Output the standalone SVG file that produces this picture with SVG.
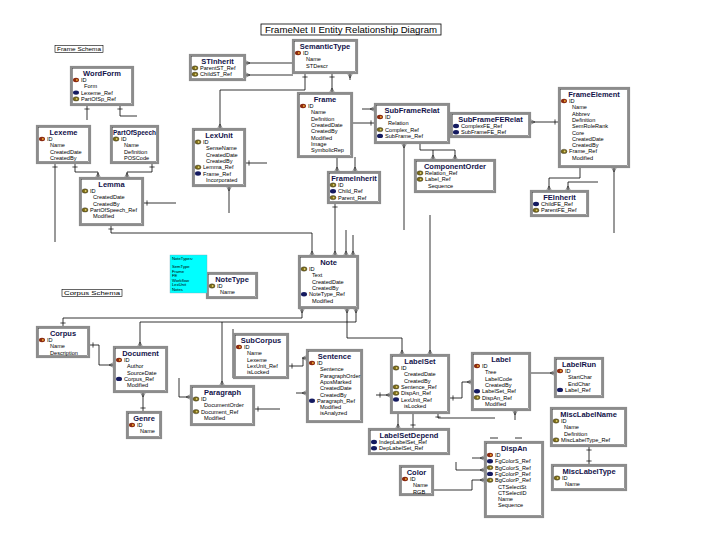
<svg xmlns="http://www.w3.org/2000/svg" xmlns:xlink="http://www.w3.org/1999/xlink" width="720" height="540" viewBox="0 0 720 540">
<style>
.b{fill:#fff;stroke:#8c8c8c;stroke-width:2.2}
.i{fill:none;stroke:#3a3a3a;stroke-width:0.5}
.h{font-family:"Liberation Sans",Arial,sans-serif;font-weight:bold;font-size:7.5px;fill:#12124a;text-anchor:middle}
.r{font-family:"Liberation Sans",Arial,sans-serif;font-size:5.6px;fill:#000}
.lbl{font-family:"Liberation Sans",Arial,sans-serif;font-size:5px;fill:#000}
.c polyline{fill:none;stroke:#000;stroke-width:0.8}
.cy{font-family:"Liberation Sans",Arial,sans-serif;font-size:4.2px;fill:#000}
</style>
<defs>
<g id="pk"><ellipse rx="3" ry="2.2" fill="#8b2a10"/><circle cx="0.8" r="1" fill="#e8a030"/></g>
<g id="pf"><ellipse rx="3" ry="2.2" fill="#7a6a18" stroke="#333" stroke-width="0.4"/><circle cx="0.6" r="0.9" fill="#e0d070"/></g>
<g id="fk"><ellipse rx="3" ry="2.2" fill="#141a60"/></g>
<marker id="many" markerUnits="userSpaceOnUse" markerWidth="10" markerHeight="10" refX="0" refY="0" orient="auto-start-reverse" overflow="visible"><path d="M-5,0 L0,-2.6 M-5,0 L0,2.6 M-5,0 L0,0" fill="none" stroke="#333" stroke-width="0.6"/></marker>
<marker id="one" markerUnits="userSpaceOnUse" markerWidth="10" markerHeight="10" refX="0" refY="0" orient="auto-start-reverse" overflow="visible"><path d="M-4,-2.6 L-4,2.6" fill="none" stroke="#000" stroke-width="0.7"/></marker>
</defs>
<rect width="720" height="540" fill="#fff"/>

<g id="title">
<rect x="261" y="24" width="180" height="11" fill="#fff" stroke="#000" stroke-width="0.8"/>
<text x="351" y="32.5" font-family="Liberation Sans, Arial, sans-serif" font-size="8.5" text-anchor="middle" textLength="172" lengthAdjust="spacingAndGlyphs">FrameNet II Entity Relationship Diagram</text>
</g>
<g id="label-frame-schema">
<rect x="55" y="45.5" width="48" height="7" fill="#fff" stroke="#000" stroke-width="0.6"/>
<text class="lbl" x="57" y="51" textLength="44" lengthAdjust="spacingAndGlyphs">Frame Schema</text>
</g>
<g id="label-corpus-schema">
<rect x="62" y="289.5" width="60" height="7" fill="#fff" stroke="#000" stroke-width="0.6"/>
<text class="lbl" x="64" y="295" textLength="56" lengthAdjust="spacingAndGlyphs">Corpus Schema</text>
</g>

<g id="connectors" class="c">
<polyline points="87,105 87,120" marker-start="url(#one)"/>
<polyline points="120,105 120,116 137,116" marker-start="url(#one)"/>
<polyline points="55,163 55,242" marker-start="url(#one)"/>
<polyline points="75,163 75,172 98,172 98,178" marker-start="url(#one)" marker-end="url(#many)"/>
<polyline points="152,163 152,172 127,172 127,178" marker-start="url(#one)" marker-end="url(#many)"/>
<polyline points="143,203 176,203" marker-start="url(#one)"/>
<polyline points="111,225 111,233 312,233 312,256" marker-start="url(#one)" marker-end="url(#many)"/>
<polyline points="229,186 229,213" marker-start="url(#many)"/>
<polyline points="305,73 305,90 220,90 220,129" marker-start="url(#one)" marker-end="url(#many)"/>
<polyline points="332,73 332,93" marker-start="url(#one)" marker-end="url(#many)"/>
<polyline points="350,73 350,80" marker-start="url(#many)"/>
<polyline points="293,63 245,63" marker-end="url(#many)"/>
<polyline points="293,75 245,75" marker-end="url(#many)"/>
<polyline points="337,157 337,172" marker-end="url(#many)"/>
<polyline points="355,157 355,172" marker-end="url(#many)"/>
<polyline points="245,163 267,163" marker-start="url(#one)"/>
<polyline points="335,203 335,256" marker-start="url(#one)" marker-end="url(#many)"/>
<polyline points="346,230 346,256" marker-end="url(#many)"/>
<polyline points="353,235 353,256" marker-end="url(#many)"/>
<polyline points="352,123 375,123" marker-end="url(#one)"/>
<polyline points="362,109 375,109" marker-end="url(#many)"/>
<polyline points="404,143 404,230" marker-start="url(#many)"/>
<polyline points="420,143 420,150 455,150 455,160" marker-end="url(#many)"/>
<polyline points="433,150 433,160" marker-end="url(#many)"/>
<polyline points="530,122 559,122" marker-start="url(#many)" marker-end="url(#one)"/>
<polyline points="580,167 580,178 549,178 549,191" marker-end="url(#many)"/>
<polyline points="598,182 568,182 568,191" marker-end="url(#many)"/>
<polyline points="614,167 614,233" marker-start="url(#many)"/>
<polyline points="63,327 63,318 302,318 302,308" marker-start="url(#one)" marker-end="url(#many)"/>
<polyline points="140,347 140,322 356,322 356,308" marker-start="url(#many)" marker-end="url(#many)"/>
<polyline points="222,322 222,386" marker-end="url(#many)"/>
<polyline points="233,329 233,378"/>
<polyline points="347,308 347,338 402,338 402,355" marker-start="url(#many)" marker-end="url(#many)"/>
<polyline points="430,215 430,355" marker-end="url(#many)"/>
<polyline points="288,366 303,366 303,358 307,358" marker-start="url(#one)" marker-end="url(#many)"/>
<polyline points="89,345 99,345 99,365 114,365" marker-start="url(#one)" marker-end="url(#many)"/>
<polyline points="143,392 143,412" marker-start="url(#many)" marker-end="url(#one)"/>
<polyline points="179,378 179,397 191,397" marker-end="url(#many)"/>
<polyline points="254,409 280,409" marker-start="url(#one)"/>
<polyline points="296,393 307,393" marker-end="url(#many)"/>
<polyline points="376,395 391,395" marker-start="url(#one)" marker-end="url(#many)"/>
<polyline points="449,398 462,398 462,382 472,382" marker-start="url(#one)" marker-end="url(#many)"/>
<polyline points="398,413 398,429" marker-end="url(#many)"/>
<polyline points="413,413 413,429" marker-end="url(#one)"/>
<polyline points="438,413 438,418 495,418" marker-start="url(#one)"/>
<polyline points="515,410 515,420" marker-start="url(#many)"/>
<polyline points="433,490 472,490 472,480 485,480" marker-end="url(#many)"/>
<polyline points="456,462 456,470 485,470" marker-end="url(#many)"/>
<polyline points="472,458 485,458" marker-end="url(#many)"/>
<polyline points="490,438 498,438"/>
<polyline points="515,438 522,438"/>
<polyline points="530,373 555,373" marker-end="url(#many)"/>
<polyline points="589,446 589,465" marker-start="url(#one)" marker-end="url(#one)"/>
</g>

<g id="n-wordform" transform="translate(71,67)">
<rect class="b" width="62" height="38"/><rect class="i" x="1.6" y="1.6" width="58.8" height="34.8"/>
<text class="h" x="31" y="8.5">WordForm</text>
<use href="#pk" x="5" y="13"/><text class="r" x="10" y="15">ID</text>
<text class="r" x="13" y="21.3">Form</text>
<use href="#fk" x="5" y="25.6"/><text class="r" x="10" y="27.6">Lexeme_Ref</text>
<use href="#pf" x="5" y="31.9"/><text class="r" x="10" y="33.9">PartOfSp_Ref</text>
</g>

<g id="n-lexeme" transform="translate(37,126)">
<rect class="b" width="53" height="37"/><rect class="i" x="1.6" y="1.6" width="49.8" height="33.8"/>
<text class="h" x="26.5" y="8.5">Lexeme</text>
<use href="#pk" x="5" y="13"/><text class="r" x="10" y="15">ID</text>
<text class="r" x="13" y="21.3">Name</text>
<text class="r" x="13" y="27.6">CreatedDate</text>
<text class="r" x="13" y="33.9">CreatedBy</text>
</g>

<g id="n-partofspeech" transform="translate(111,126)">
<rect class="b" width="47" height="37"/><rect class="i" x="1.6" y="1.6" width="43.8" height="33.8"/>
<text class="h" x="23.5" y="8.5" style="font-size:6.5px">PartOfSpeech</text>
<use href="#pf" x="5" y="13"/><text class="r" x="10" y="15">ID</text>
<text class="r" x="13" y="21.3">Name</text>
<text class="r" x="13" y="27.6">Definition</text>
<text class="r" x="13" y="33.9">POSCode</text>
</g>

<g id="n-lemma" transform="translate(80,178)">
<rect class="b" width="63" height="47"/><rect class="i" x="1.6" y="1.6" width="59.8" height="43.8"/>
<text class="h" x="31.5" y="8.5">Lemma</text>
<use href="#pf" x="5" y="13"/><text class="r" x="10" y="15">ID</text>
<text class="r" x="13" y="21.3">CreatedDate</text>
<text class="r" x="13" y="27.6">CreatedBy</text>
<use href="#pf" x="5" y="31.9"/><text class="r" x="10" y="33.9">PartOfSpeech_Ref</text>
<text class="r" x="13" y="40.2">Modified</text>
</g>

<g id="n-semantictype" transform="translate(293,40)">
<rect class="b" width="64" height="33"/><rect class="i" x="1.6" y="1.6" width="60.8" height="29.8"/>
<text class="h" x="32" y="8.5">SemanticType</text>
<use href="#pk" x="5" y="13"/><text class="r" x="10" y="15">ID</text>
<text class="r" x="13" y="21.3">Name</text>
<text class="r" x="13" y="27.6">STDescr</text>
</g>

<g id="n-stinherit" transform="translate(190,55)">
<rect class="b" width="55" height="25"/><rect class="i" x="1.6" y="1.6" width="51.8" height="21.8"/>
<text class="h" x="27.5" y="8.5">STInherit</text>
<use href="#pf" x="5" y="13"/><text class="r" x="10" y="15">ParentST_Ref</text>
<use href="#pf" x="5" y="19.3"/><text class="r" x="10" y="21.3">ChildST_Ref</text>
</g>

<g id="n-frame" transform="translate(298,93)">
<rect class="b" width="54" height="64"/><rect class="i" x="1.6" y="1.6" width="50.8" height="60.8"/>
<text class="h" x="27" y="8.5">Frame</text>
<use href="#pk" x="5" y="13"/><text class="r" x="10" y="15">ID</text>
<text class="r" x="13" y="21.3">Name</text>
<text class="r" x="13" y="27.6">Definition</text>
<text class="r" x="13" y="33.9">CreatedDate</text>
<text class="r" x="13" y="40.2">CreatedBy</text>
<text class="r" x="13" y="46.5">Modified</text>
<text class="r" x="13" y="52.8">Image</text>
<text class="r" x="13" y="59.1">SymbolicRep</text>
</g>

<g id="n-lexunit" transform="translate(193,129)">
<rect class="b" width="52" height="57"/><rect class="i" x="1.6" y="1.6" width="48.8" height="53.8"/>
<text class="h" x="26" y="8.5">LexUnit</text>
<use href="#pf" x="5" y="13"/><text class="r" x="10" y="15">ID</text>
<text class="r" x="13" y="21.3">SenseName</text>
<text class="r" x="13" y="27.6">CreatedDate</text>
<text class="r" x="13" y="33.9">CreatedBy</text>
<use href="#pf" x="5" y="38.2"/><text class="r" x="10" y="40.2">Lemma_Ref</text>
<use href="#fk" x="5" y="44.5"/><text class="r" x="10" y="46.5">Frame_Ref</text>
<text class="r" x="13" y="52.8">Incorporated</text>
</g>

<g id="n-frameinherit" transform="translate(328,172)">
<rect class="b" width="52" height="31"/><rect class="i" x="1.6" y="1.6" width="48.8" height="27.8"/>
<text class="h" x="26" y="8.5">FrameInherit</text>
<use href="#pf" x="5" y="13"/><text class="r" x="10" y="15">ID</text>
<use href="#fk" x="5" y="19.3"/><text class="r" x="10" y="21.3">Child_Ref</text>
<use href="#pf" x="5" y="25.6"/><text class="r" x="10" y="27.6">Parent_Ref</text>
</g>

<g id="n-subframerelat" transform="translate(375,104)">
<rect class="b" width="74" height="39"/><rect class="i" x="1.6" y="1.6" width="70.8" height="35.8"/>
<text class="h" x="37" y="8.5">SubFrameRelat</text>
<use href="#pk" x="5" y="13"/><text class="r" x="10" y="15">ID</text>
<text class="r" x="13" y="21.3">Relation</text>
<use href="#pf" x="5" y="25.6"/><text class="r" x="10" y="27.6">Complex_Ref</text>
<use href="#fk" x="5" y="31.9"/><text class="r" x="10" y="33.9">SubFrame_Ref</text>
</g>

<g id="n-subframeferelat" transform="translate(451,113)">
<rect class="b" width="79" height="24"/><rect class="i" x="1.6" y="1.6" width="75.8" height="20.8"/>
<text class="h" x="39.5" y="8.5">SubFrameFERelat</text>
<use href="#fk" x="5" y="13"/><text class="r" x="10" y="15">ComplexFE_Ref</text>
<use href="#fk" x="5" y="19.3"/><text class="r" x="10" y="21.3">SubFrameFE_Ref</text>
</g>

<g id="n-componentorder" transform="translate(415,160)">
<rect class="b" width="80" height="32"/><rect class="i" x="1.6" y="1.6" width="76.8" height="28.8"/>
<text class="h" x="40" y="8.5">ComponentOrder</text>
<use href="#pf" x="5" y="13"/><text class="r" x="10" y="15">Relation_Ref</text>
<use href="#pf" x="5" y="19.3"/><text class="r" x="10" y="21.3">Label_Ref</text>
<text class="r" x="13" y="27.6">Sequence</text>
</g>

<g id="n-frameelement" transform="translate(559,88)">
<rect class="b" width="70" height="79"/><rect class="i" x="1.6" y="1.6" width="66.8" height="75.8"/>
<text class="h" x="35" y="8.5">FrameElement</text>
<use href="#pk" x="5" y="13"/><text class="r" x="10" y="15">ID</text>
<text class="r" x="13" y="21.3">Name</text>
<text class="r" x="13" y="27.6">Abbrev</text>
<text class="r" x="13" y="33.9">Definition</text>
<text class="r" x="13" y="40.2">SemRoleRank</text>
<text class="r" x="13" y="46.5">Core</text>
<text class="r" x="13" y="52.8">CreatedDate</text>
<text class="r" x="13" y="59.1">CreatedBy</text>
<use href="#pf" x="5" y="63.4"/><text class="r" x="10" y="65.4">Frame_Ref</text>
<text class="r" x="13" y="71.7">Modified</text>
</g>

<g id="n-feinherit" transform="translate(531,191)">
<rect class="b" width="57" height="25"/><rect class="i" x="1.6" y="1.6" width="53.8" height="21.8"/>
<text class="h" x="28.5" y="8.5">FEInherit</text>
<use href="#fk" x="5" y="13"/><text class="r" x="10" y="15">ChildFE_Ref</text>
<use href="#pf" x="5" y="19.3"/><text class="r" x="10" y="21.3">ParentFE_Ref</text>
</g>

<g id="n-note" transform="translate(299,256)">
<rect class="b" width="59" height="52"/><rect class="i" x="1.6" y="1.6" width="55.8" height="48.8"/>
<text class="h" x="29.5" y="8.5">Note</text>
<use href="#pf" x="5" y="13"/><text class="r" x="10" y="15">ID</text>
<text class="r" x="13" y="21.3">Text</text>
<text class="r" x="13" y="27.6">CreatedDate</text>
<text class="r" x="13" y="33.9">CreatedBy</text>
<use href="#fk" x="5" y="38.2"/><text class="r" x="10" y="40.2">NoteType_Ref</text>
<text class="r" x="13" y="46.5">Modified</text>
</g>

<g id="n-notetype" transform="translate(207,273)">
<rect class="b" width="50" height="25"/><rect class="i" x="1.6" y="1.6" width="46.8" height="21.8"/>
<text class="h" x="25" y="8.5">NoteType</text>
<use href="#pf" x="5" y="13"/><text class="r" x="10" y="15">ID</text>
<text class="r" x="13" y="21.3">Name</text>
</g>

<g id="n-notetypes-legend" transform="translate(170,255)">
<rect width="37" height="38" fill="#00ffff" stroke="#7ab" stroke-width="0.4"/>
<text class="cy" x="2" y="5">NoteTypes:</text>
<text class="cy" x="2" y="13">SemType</text>
<text class="cy" x="2" y="17.5">Frame</text>
<text class="cy" x="2" y="22">FE</text>
<text class="cy" x="2" y="26.5">Workflow</text>
<text class="cy" x="2" y="31">LexUnit</text>
<text class="cy" x="2" y="35.5">Notes</text>
</g>

<g id="n-corpus" transform="translate(37,327)">
<rect class="b" width="52" height="30"/><rect class="i" x="1.6" y="1.6" width="48.8" height="26.8"/>
<text class="h" x="26" y="8.5">Corpus</text>
<use href="#pk" x="5" y="13"/><text class="r" x="10" y="15">ID</text>
<text class="r" x="13" y="21.3">Name</text>
<text class="r" x="13" y="27.6">Description</text>
</g>

<g id="n-document" transform="translate(114,347)">
<rect class="b" width="53" height="45"/><rect class="i" x="1.6" y="1.6" width="49.8" height="41.8"/>
<text class="h" x="26.5" y="8.5">Document</text>
<use href="#pk" x="5" y="13"/><text class="r" x="10" y="15">ID</text>
<text class="r" x="13" y="21.3">Author</text>
<text class="r" x="13" y="27.6">SourceDate</text>
<use href="#fk" x="5" y="31.9"/><text class="r" x="10" y="33.9">Corpus_Ref</text>
<text class="r" x="13" y="40.2">Modified</text>
</g>

<g id="n-genre" transform="translate(127,412)">
<rect class="b" width="34" height="26"/><rect class="i" x="1.6" y="1.6" width="30.8" height="22.8"/>
<text class="h" x="17" y="8.5">Genre</text>
<use href="#pk" x="5" y="13"/><text class="r" x="10" y="15">ID</text>
<text class="r" x="13" y="21.3">Name</text>
</g>

<g id="n-subcorpus" transform="translate(234,334)">
<rect class="b" width="54" height="44"/><rect class="i" x="1.6" y="1.6" width="50.8" height="40.8"/>
<text class="h" x="27" y="8.5">SubCorpus</text>
<use href="#pk" x="5" y="13"/><text class="r" x="10" y="15">ID</text>
<text class="r" x="13" y="21.3">Name</text>
<text class="r" x="13" y="27.6">Lexeme</text>
<text class="r" x="13" y="33.9">LexUnit_Ref</text>
<text class="r" x="13" y="40.2">isLocked</text>
</g>

<g id="n-paragraph" transform="translate(191,386)">
<rect class="b" width="63" height="39"/><rect class="i" x="1.6" y="1.6" width="59.8" height="35.8"/>
<text class="h" x="31.5" y="8.5">Paragraph</text>
<use href="#pf" x="5" y="13"/><text class="r" x="10" y="15">ID</text>
<text class="r" x="13" y="21.3">DocumentOrder</text>
<use href="#pf" x="5" y="25.6"/><text class="r" x="10" y="27.6">Document_Ref</text>
<text class="r" x="13" y="33.9">Modified</text>
</g>

<g id="n-sentence" transform="translate(307,350)">
<rect class="b" width="55" height="72"/><rect class="i" x="1.6" y="1.6" width="51.8" height="68.8"/>
<text class="h" x="27.5" y="8.5">Sentence</text>
<use href="#pk" x="5" y="13"/><text class="r" x="10" y="15">ID</text>
<text class="r" x="13" y="21.3">Sentence</text>
<text class="r" x="13" y="27.6">ParagraphOrder</text>
<text class="r" x="13" y="33.9">AposMarked</text>
<text class="r" x="13" y="40.2">CreatedDate</text>
<text class="r" x="13" y="46.5">CreatedBy</text>
<use href="#fk" x="5" y="50.8"/><text class="r" x="10" y="52.8">Paragraph_Ref</text>
<text class="r" x="13" y="59.1">Modified</text>
<text class="r" x="13" y="65.4">isAnalyzed</text>
</g>

<g id="n-labelset" transform="translate(391,355)">
<rect class="b" width="58" height="58"/><rect class="i" x="1.6" y="1.6" width="54.8" height="54.8"/>
<text class="h" x="29" y="8.5">LabelSet</text>
<use href="#pf" x="5" y="13"/><text class="r" x="10" y="15">ID</text>
<text class="r" x="13" y="21.3">CreatedDate</text>
<text class="r" x="13" y="27.6">CreatedBy</text>
<use href="#pf" x="5" y="31.9"/><text class="r" x="10" y="33.9">Sentence_Ref</text>
<use href="#pf" x="5" y="38.2"/><text class="r" x="10" y="40.2">DispAn_Ref</text>
<use href="#fk" x="5" y="44.5"/><text class="r" x="10" y="46.5">LexUnit_Ref</text>
<text class="r" x="13" y="52.8">isLocked</text>
</g>

<g id="n-label" transform="translate(472,353)">
<rect class="b" width="58" height="57"/><rect class="i" x="1.6" y="1.6" width="54.8" height="53.8"/>
<text class="h" x="29" y="8.5">Label</text>
<use href="#pk" x="5" y="13"/><text class="r" x="10" y="15">ID</text>
<text class="r" x="13" y="21.3">Tree</text>
<text class="r" x="13" y="27.6">LabelCode</text>
<text class="r" x="13" y="33.9">CreatedBy</text>
<use href="#fk" x="5" y="38.2"/><text class="r" x="10" y="40.2">LabelSet_Ref</text>
<use href="#pf" x="5" y="44.5"/><text class="r" x="10" y="46.5">DispAn_Ref</text>
<text class="r" x="13" y="52.8">Modified</text>
</g>

<g id="n-labelrun" transform="translate(555,358)">
<rect class="b" width="48" height="39"/><rect class="i" x="1.6" y="1.6" width="44.8" height="35.8"/>
<text class="h" x="24" y="8.5">LabelRun</text>
<use href="#pk" x="5" y="13"/><text class="r" x="10" y="15">ID</text>
<text class="r" x="13" y="21.3">StartChar</text>
<text class="r" x="13" y="27.6">EndChar</text>
<use href="#fk" x="5" y="31.9"/><text class="r" x="10" y="33.9">Label_Ref</text>
</g>

<g id="n-misclabelname" transform="translate(551,408)">
<rect class="b" width="75" height="38"/><rect class="i" x="1.6" y="1.6" width="71.8" height="34.8"/>
<text class="h" x="37.5" y="8.5">MiscLabelName</text>
<use href="#pf" x="5" y="13"/><text class="r" x="10" y="15">ID</text>
<text class="r" x="13" y="21.3">Name</text>
<text class="r" x="13" y="27.6">Definition</text>
<use href="#pf" x="5" y="31.9"/><text class="r" x="10" y="33.9">MiscLabelType_Ref</text>
</g>

<g id="n-misclabeltype" transform="translate(552,465)">
<rect class="b" width="74" height="25"/><rect class="i" x="1.6" y="1.6" width="70.8" height="21.8"/>
<text class="h" x="37" y="8.5">MiscLabelType</text>
<use href="#pf" x="5" y="13"/><text class="r" x="10" y="15">ID</text>
<text class="r" x="13" y="21.3">Name</text>
</g>

<g id="n-labelsetdepend" transform="translate(369,429)">
<rect class="b" width="80" height="25"/><rect class="i" x="1.6" y="1.6" width="76.8" height="21.8"/>
<text class="h" x="40" y="8.5">LabelSetDepend</text>
<use href="#fk" x="5" y="13"/><text class="r" x="10" y="15">IndepLabelSet_Ref</text>
<use href="#fk" x="5" y="19.3"/><text class="r" x="10" y="21.3">DepLabelSet_Ref</text>
</g>

<g id="n-color" transform="translate(400,466)">
<rect class="b" width="33" height="29"/><rect class="i" x="1.6" y="1.6" width="29.8" height="25.8"/>
<text class="h" x="16.5" y="8.5">Color</text>
<use href="#pk" x="5" y="13"/><text class="r" x="10" y="15">ID</text>
<text class="r" x="13" y="21.3">Name</text>
<text class="r" x="13" y="27.6">RGB</text>
</g>

<g id="n-dispan" transform="translate(485,442)">
<rect class="b" width="58" height="75"/><rect class="i" x="1.6" y="1.6" width="54.8" height="71.8"/>
<text class="h" x="29" y="8.5">DispAn</text>
<use href="#pk" x="5" y="13"/><text class="r" x="10" y="15">ID</text>
<use href="#fk" x="5" y="19.3"/><text class="r" x="10" y="21.3">FgColorS_Ref</text>
<use href="#pf" x="5" y="25.6"/><text class="r" x="10" y="27.6">BgColorS_Ref</text>
<use href="#fk" x="5" y="31.9"/><text class="r" x="10" y="33.9">FgColorP_Ref</text>
<use href="#pf" x="5" y="38.2"/><text class="r" x="10" y="40.2">BgColorP_Ref</text>
<text class="r" x="13" y="46.5">CTSelectSt</text>
<text class="r" x="13" y="52.8">CTSelectID</text>
<text class="r" x="13" y="59.1">Name</text>
<text class="r" x="13" y="65.4">Sequence</text>
</g>
</svg>
